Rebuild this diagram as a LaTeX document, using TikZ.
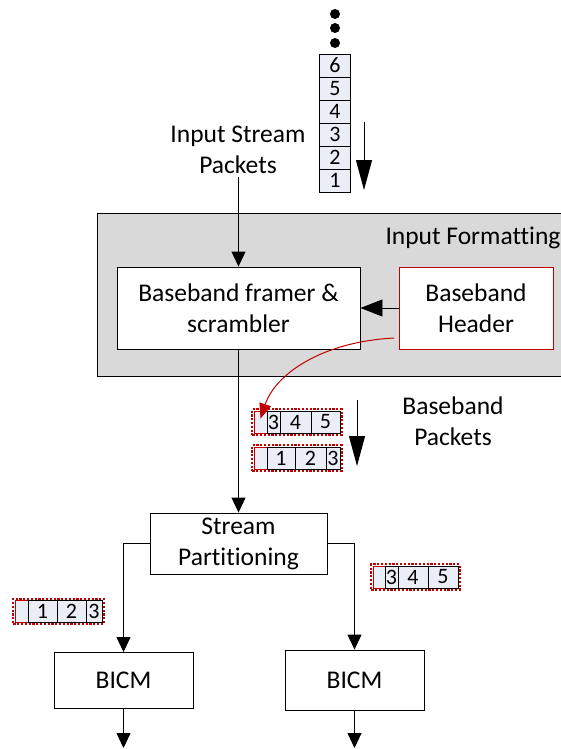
\documentclass[tikz,border=0pt]{standalone}
\usepackage{fontspec}
\setmainfont[Ligatures=NoCommon]{Carlito}
\usetikzlibrary{arrows.meta,positioning,fit}
\definecolor{HdrRed}{HTML}{C00000}
\definecolor{PktFill}{HTML}{E9EEF7}
\definecolor{FmtFill}{HTML}{D9D9D9}
\tikzset{
  every picture/.append style={font=\fontsize{25.5}{31}\selectfont},
  blk/.style={rectangle, draw=black, fill=white, line width=0.9pt, align=center, inner sep=2pt},
  hdr/.style={blk, draw=HdrRed},
  cell/.style={rectangle, draw=black, fill=PktFill, line width=0.9pt, inner sep=0pt,
               minimum height=23pt, font=\fontsize{22}{22}\selectfont},
  rcell/.style={cell, draw=HdrRed},
  pkt/.style={rectangle, draw=HdrRed, line width=2.2pt, dash pattern=on 2.2pt off 1.6pt, inner sep=1.2pt},
  flow/.style={-{Triangle[length=15pt,width=14pt]}, line width=0.9pt},
  flowH/.style={-{Triangle[length=22pt,width=17pt]}, line width=0.9pt},
  flowR/.style={-{Triangle[length=15pt,width=12pt]}, line width=1pt, draw=HdrRed},
  bigflow/.style={-{Triangle[length=30pt,width=16pt]}, line width=1pt},
  lbl/.style={align=center},
}
\begin{document}
\begin{tikzpicture}[x=1pt,y=-1pt]
\useasboundingbox (0,0) rectangle (561,749);

% ---------------- input stream packets ----------------------------------------
\foreach \y in {14,28,43} \fill (335,\y) circle (5pt);
\foreach \i in {1,...,6}{
  \node[cell, minimum width=31pt] (in\i) at (335,{180.5-23*(\i-1)}) {\i};}
\coordinate (inA) at (364,122);
\coordinate (inB) at (364,190);
\draw[bigflow] (inA) -- (inB);
\node[lbl] (instr) at (238,150) {Input Stream\\Packets};

% ---------------- input formatting ---------------------------------------------
\node[rectangle, draw, fill=FmtFill, line width=0.9pt, minimum width=480pt,
      minimum height=163pt, anchor=north west] (fmt) at (97,213) {};
\node[anchor=west] (fmtlbl) at (382,238) {Input Formatting};
\node[blk, minimum width=243pt, minimum height=82pt] (bbf) at (238.5,308) {Baseband framer \&\\scrambler};
\node[hdr, minimum width=154pt, minimum height=82pt] (bbh) at (476,308) {Baseband\\Header};
\draw[flow] (bbf.north |- instr.south) -- (bbf.north);
\draw[flowH] (bbh) -- (bbf);

% ---------------- baseband packets ---------------------------------------------
\node[rcell, minimum width=13pt, minimum height=22pt] (bbA0) at (260.5,422) {};
\foreach \n/\c/\w/\t in {1/273.5/13/3, 2/295.5/31/4, 3/325.5/29/5}{
  \node[cell, minimum width=\w pt, minimum height=22pt] (bbA\n) at (\c,422) {\t};}
\node[pkt, fit=(bbA0)(bbA3)] (bbA) {};
\node[rcell, minimum width=13pt, minimum height=22pt] (bbB0) at (260.5,458) {};
\foreach \n/\c/\w/\t in {1/281/28/1, 2/310.5/31/2, 3/333/14/3}{
  \node[cell, minimum width=\w pt, minimum height=22pt] (bbB\n) at (\c,458) {\t};}
\node[pkt, fit=(bbB0)(bbB3)] (bbB) {};
\coordinate (bbhout) at (394,338);
\draw[flowR] (bbhout) .. controls (320,342) and (275,375) .. ([yshift=-8pt]bbA0.north);
\coordinate (bbC) at (357,400);
\coordinate (bbD) at (357,466);
\draw[bigflow] (bbC) -- (bbD);
\node[lbl] (bbpk) at (453,421) {Baseband\\Packets};

% ---------------- stream partitioning ------------------------------------------
\node[blk, minimum width=177pt, minimum height=61pt] (sp) at (238.5,543.5) {Stream\\Partitioning};
\draw[flow] (bbf) -- (sp);

\node[rcell, minimum width=13pt, minimum height=22pt] (plL0) at (21.5,611.5) {};
\foreach \n/\c/\w/\t in {1/42.5/29/1, 2/71.5/29/2, 3/94/16/3}{
  \node[cell, minimum width=\w pt, minimum height=22pt] (plL\n) at (\c,611.5) {\t};}
\node[pkt, fit=(plL0)(plL3)] (plL) {};
\node[rcell, minimum width=12pt, minimum height=22pt] (plR0) at (379,577) {};
\foreach \n/\c/\w/\t in {1/391.5/13/3, 2/413/30/4, 3/443/30/5}{
  \node[cell, minimum width=\w pt, minimum height=22pt] (plR\n) at (\c,577) {\t};}
\node[pkt, fit=(plR0)(plR3)] (plR) {};

% ---------------- BICM ---------------------------------------------------------
\node[blk, minimum width=139pt, minimum height=56pt] (bicmL) at (123.5,680.5) {BICM};
\node[blk, minimum width=139pt, minimum height=60pt] (bicmR) at (354.5,680) {BICM};
\draw[flow] (sp.west) -| (bicmL.north);
\draw[flow] (sp.east) -| (bicmR.north);
\coordinate (outL) at (123.5,748);
\coordinate (outR) at (354.5,748);
\draw[flow] (bicmL) -- (outL);
\draw[flow] (bicmR) -- (outR);

\end{tikzpicture}
\end{document}
